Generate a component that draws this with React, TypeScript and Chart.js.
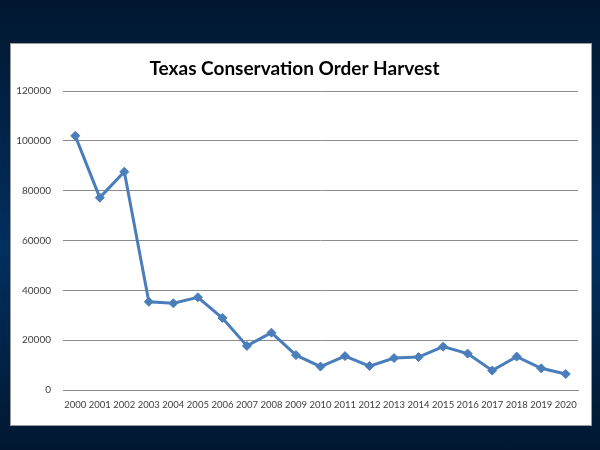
import React, { useEffect, useRef } from "react";
import { Chart, registerables } from "chart.js";

Chart.register(...registerables);

const titleText = "Texas Conservation Order Harvest";
const years = [
  "2000", "2001", "2002", "2003", "2004", "2005", "2006", "2007", "2008", "2009", "2010",
  "2011", "2012", "2013", "2014", "2015", "2016", "2017", "2018", "2019", "2020",
];
const harvest = [
  102000, 77200, 87600, 35400, 34800, 37200, 28900, 17700, 23000, 14000, 9400,
  13600, 9600, 12800, 13200, 17400, 14600, 7800, 13400, 8700, 6400,
];
const yMin = 0;
const yMax = 120000;
const yStep = 20000;

export default function App() {
  const ref = useRef<HTMLCanvasElement | null>(null);

  useEffect(() => {
    if (!ref.current) return;
    const blue = "#4a7ebb";
    const chart = new Chart(ref.current, {
      type: "line",
      data: {
        labels: years,
        datasets: [
          {
            data: harvest,
            borderColor: blue,
            backgroundColor: blue,
            borderWidth: 3,
            pointStyle: "rectRot",
            pointRadius: 4.5,
            pointBorderWidth: 1,
            pointBackgroundColor: blue,
            pointBorderColor: blue,
            tension: 0,
          },
        ],
      },
      options: {
        responsive: false,
        animation: false,
        layout: { padding: { left: 0, right: 13, top: 0, bottom: 0 } },
        plugins: {
          legend: { display: false },
          tooltip: { enabled: false },
          title: {
            display: true,
            text: titleText,
            color: "#000000",
            font: { family: "Lato, 'Open Sans', sans-serif", size: 19, weight: "bold" },
            padding: { top: 13.5, bottom: 10.7 },
          },
        },
        scales: {
          x: {
            offset: true,
            grid: { display: false, drawTicks: false },
            border: { display: true, color: "#8c8c8c", width: 1 },
            ticks: {
              autoSkip: false,
              maxRotation: 0,
              minRotation: 0,
              padding: 9,
              color: "#404040",
              font: { family: "Lato, 'Open Sans', sans-serif", size: 9.5 },
            },
            afterFit: (scale: any) => {
              scale.height = 35;
            },
          },
          y: {
            min: yMin,
            max: yMax,
            grid: { color: "#8c8c8c", lineWidth: 1, drawTicks: false },
            border: { display: false },
            ticks: {
              stepSize: yStep,
              padding: 12,
              color: "#404040",
              font: { family: "Lato, 'Open Sans', sans-serif", size: 10 },
              callback: (v: any) => String(v),
            },
            afterFit: (scale: any) => {
              scale.width = 52;
            },
          },
        },
      },
    });
    return () => chart.destroy();
  }, []);

  return (
    <div
      style={{
        position: "fixed",
        left: 0,
        top: 0,
        width: 600,
        height: 450,
        background: "linear-gradient(to bottom, #011730 0%, #012a55 45%, #00305f 55%, #011730 100%)",
        overflow: "hidden",
      }}
    >
      <div
        style={{
          position: "absolute",
          left: 10,
          top: 43,
          width: 580,
          height: 381,
          background: "#ffffff",
          border: "1px solid #9a9a9a",
        }}
      >
        <canvas ref={ref} width={580} height={381} style={{ display: "block" }} />
      </div>
    </div>
  );
}
